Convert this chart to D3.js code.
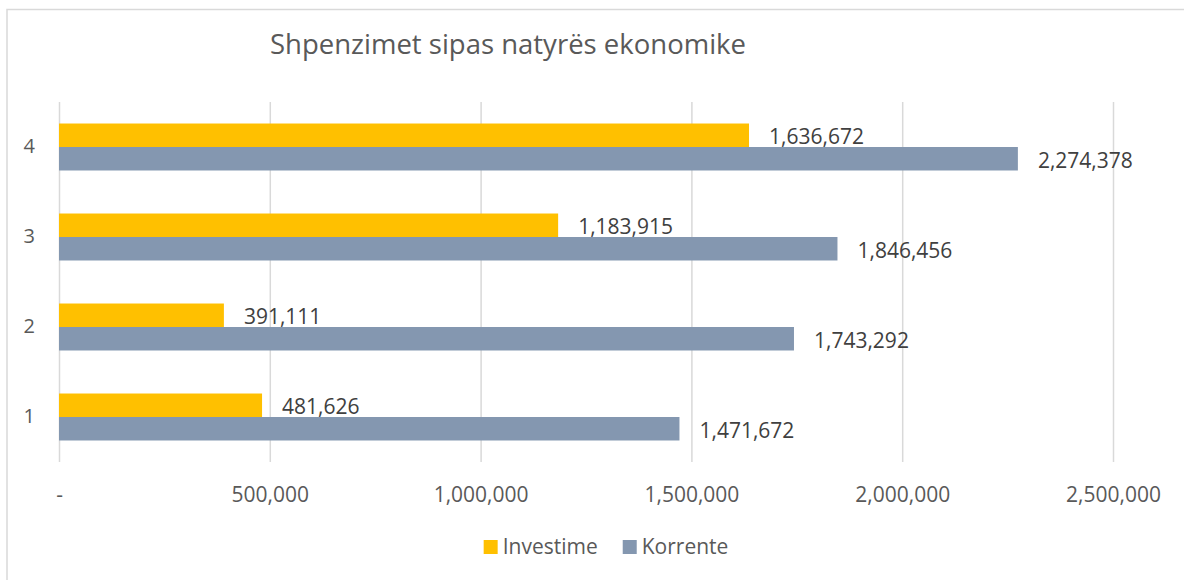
<!DOCTYPE html>
<html>
<head>
<meta charset="utf-8">
<script src="https://cdn.jsdelivr.net/npm/d3@7"></script>
<style>
  html, body { margin: 0; padding: 0; background: #fff; }
  text { font-family: "Open Sans", sans-serif; }
</style>
</head>
<body>
<script>
// data
const categories = ["1", "2", "3", "4"];
const seriesNames = ["Investime", "Korrente"];
const investime = [481626, 391111, 1183915, 1636672];
const korrente = [1471672, 1743292, 1846456, 2274378];
const xTicks = [0, 500000, 1000000, 1500000, 2000000, 2500000];
const colors = ["#FFC000", "#8497B0"];

const width = 1184, height = 580;

const svg = d3.select("body").append("svg")
    .attr("width", width)
    .attr("height", height);

// chart border
svg.append("rect")
    .attr("x", 7).attr("y", 9.5)
    .attr("width", 1200).attr("height", 600)
    .attr("fill", "none")
    .attr("stroke", "#d9d9d9")
    .attr("stroke-width", 1.5);

// title
svg.append("text")
    .attr("x", 508).attr("y", 54)
    .attr("text-anchor", "middle")
    .attr("fill", "#595959")
    .style("font-size", "27.5px")
    .text("Shpenzimet sipas natyrës ekonomike");

const x = d3.scaleLinear().domain([0, 2500000]).range([59, 1113]);
const y = d3.scaleBand()
    .domain(categories.slice().reverse())
    .range([102, 462])
    .paddingInner(0.478)
    .paddingOuter(0.239);
const ySub = d3.scaleBand().domain(seriesNames).range([0, y.bandwidth()]);

// gridlines
svg.append("g")
    .attr("transform", "translate(0,462)")
    .call(d3.axisBottom(x).tickValues(xTicks).tickSize(-360).tickFormat(""))
    .call(g => g.select(".domain").remove())
    .call(g => g.selectAll(".tick line").attr("stroke", "#d9d9d9").attr("stroke-width", 1.5));

// x tick labels
const fmt = d3.format(",");
svg.append("g")
    .attr("transform", "translate(0,462)")
    .call(d3.axisBottom(x).tickValues(xTicks).tickSize(0).tickPadding(25)
        .tickFormat(d => d === 0 ? "-" : fmt(d)))
    .call(g => g.select(".domain").remove())
    .call(g => g.selectAll(".tick text")
        .attr("fill", "#595959")
        .style("font-size", "21px")
        .style("font-family", "'Open Sans', sans-serif"));

// y category labels
svg.append("g")
    .attr("transform", "translate(59,0)")
    .call(d3.axisLeft(y).tickSize(0).tickPadding(24))
    .call(g => g.select(".domain").remove())
    .call(g => g.selectAll(".tick text")
        .attr("fill", "#595959")
        .style("font-size", "20px")
        .style("font-family", "'Open Sans', sans-serif"));

// bars
const rows = categories.map((c, i) => ({
    cat: c,
    vals: [
        { name: "Investime", v: investime[i], color: colors[0] },
        { name: "Korrente", v: korrente[i], color: colors[1] }
    ]
}));

const grp = svg.append("g").selectAll("g")
    .data(rows)
    .join("g")
    .attr("transform", d => `translate(0,${y(d.cat)})`);

grp.selectAll("rect")
    .data(d => d.vals)
    .join("rect")
    .attr("x", x(0))
    .attr("y", d => ySub(d.name))
    .attr("width", d => x(d.v) - x(0))
    .attr("height", ySub.bandwidth())
    .attr("fill", d => d.color);

// value labels
grp.selectAll("text.val")
    .data(d => d.vals)
    .join("text")
    .attr("class", "val")
    .attr("x", d => x(d.v) + 20)
    .attr("y", d => ySub(d.name) + ySub.bandwidth() / 2 + 9)
    .attr("fill", "#404040")
    .style("font-size", "21px")
    .text(d => fmt(d.v));

// legend
const legend = svg.append("g");
let lx = 0;
seriesNames.forEach((name, i) => {
    const item = legend.append("g").attr("transform", `translate(${lx},0)`);
    item.append("rect")
        .attr("x", 0).attr("y", -14)
        .attr("width", 14).attr("height", 14)
        .attr("fill", colors[i]);
    const t = item.append("text")
        .attr("x", 19).attr("y", 0)
        .attr("fill", "#595959")
        .style("font-size", "21px")
        .text(name);
    lx += 19 + t.node().getComputedTextLength() + 25;
});
const legendW = lx - 25;
legend.attr("transform", `translate(${606 - legendW / 2},554)`);
</script>
</body>
</html>
